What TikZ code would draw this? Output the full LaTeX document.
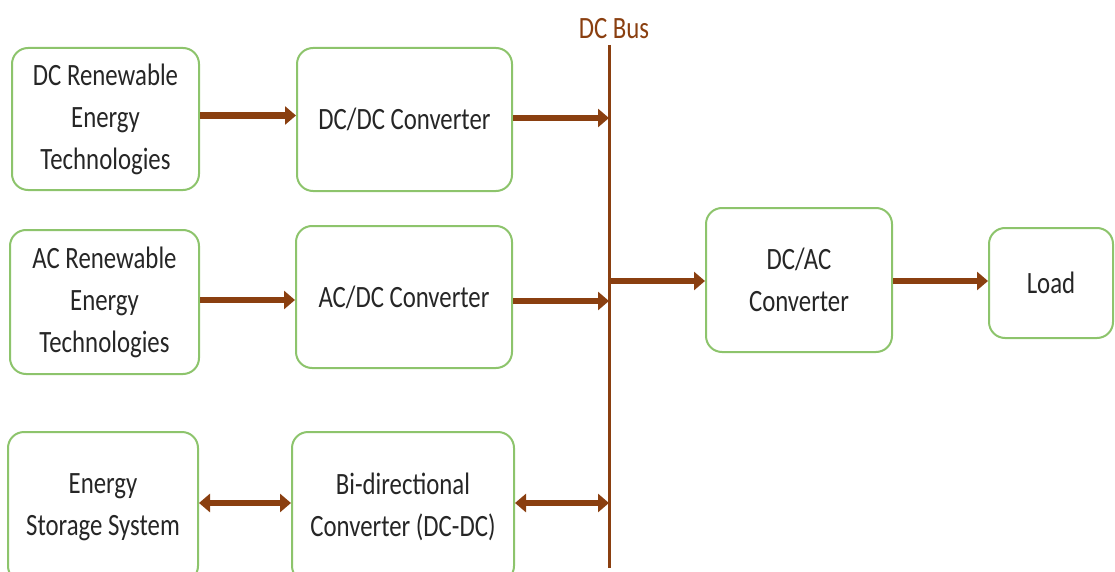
\documentclass[tikz,border=0pt]{standalone}
\usepackage{fontspec}
\setmainfont{Carlito}[FakeStretch=0.8]
\usetikzlibrary{arrows.meta}
\definecolor{busbrown}{HTML}{8A3F10}
\definecolor{boxgreen}{HTML}{8DC46C}
\begin{document}
\begin{tikzpicture}[x=1pt,y=-1pt,
  block/.style={draw=boxgreen,line width=2pt,rounded corners=16pt,fill=white,
    align=center,inner sep=0pt,font=\fontsize{31}{42}\selectfont,text=black!85},
  tip/.style={Triangle[length=11pt,width=18pt]},
  link/.style={draw=busbrown,line width=6.5pt,-{Triangle[length=11pt,width=18pt]}},
  twoway/.style={draw=busbrown,line width=6.5pt,{Triangle[length=11pt,width=18pt]}-{Triangle[length=11pt,width=18pt]}}]
\useasboundingbox (0,0) rectangle (1115,572);
\clip (0,0) rectangle (1115,572);
% source blocks
\node[block,minimum width=187pt,minimum height=142pt] (dcr) at (105.5,119) {DC Renewable\\Energy\\Technologies};
\node[block,minimum width=189pt,minimum height=144pt] (acr) at (104.5,302) {AC Renewable\\Energy\\Technologies};
\node[block,minimum width=190pt,minimum height=150pt] (ess) at (103,507) {Energy\\Storage System};
% converters
\node[block,minimum width=215pt,minimum height=143pt] (dcdc) at (404.5,119.5) {DC/DC Converter};
\node[block,minimum width=216pt,minimum height=142pt] (acdc) at (404,297) {AC/DC Converter};
\node[block,minimum width=222pt,minimum height=150pt] (bidi) at (403,507) {Bi-directional\\Converter (DC-DC)};
\node[block,minimum width=186pt,minimum height=144pt] (dcac) at (799,280) {DC/AC\\Converter};
\node[block,minimum width=124pt,minimum height=110pt] (load) at (1051,283) {Load};
% DC bus
\coordinate (bt) at (609,45);
\coordinate (bb) at (609,568);
\draw[busbrown,line width=3pt] (bt) -- (bb);
\node[text=busbrown,font=\fontsize{31}{36}\selectfont,anchor=south] (buslbl) at (614,42) {DC Bus};
% connections
\draw[link] ([yshift=3.5pt]dcr.east) -- ([yshift=3.5pt]dcr.east -| dcdc.west);
\draw[link] ([yshift=1.5pt]dcdc.east) -- ([yshift=1.5pt]dcdc.east -| bt);
\draw[link] ([yshift=2pt]acr.east) -- ([yshift=2pt]acr.east -| acdc.west);
\draw[link] ([yshift=-4pt]acdc.east) -- ([yshift=-4pt]acdc.east -| bt);
\draw[twoway] ([yshift=4pt]ess.east) -- ([yshift=4pt]ess.east -| bidi.west);
\draw[twoway] ([yshift=4pt]bidi.east) -- ([yshift=4pt]bidi.east -| bt);
\draw[link] ([yshift=-1pt]dcac.west -| bt) -- ([yshift=-1pt]dcac.west);
\draw[link] ([yshift=-1pt]dcac.east) -- ([yshift=-1pt]dcac.east -| load.west);
\end{tikzpicture}
\end{document}
